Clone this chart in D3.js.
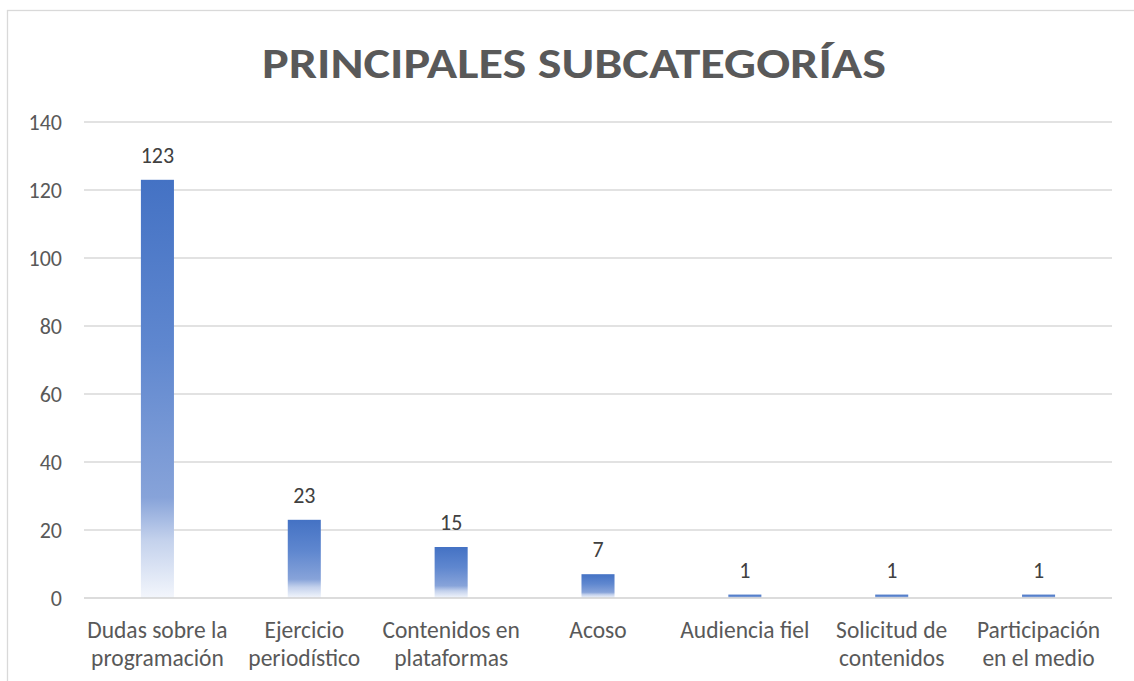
<!DOCTYPE html>
<script src="https://d3js.org/d3.v7.min.js"></script>
<body style="margin: 0; background: #fff;">
<svg id="chart" width="1134" height="681"></svg>
</body>

<style>
  text { font-family: Calibri, Carlito, Lato, "Open Sans", sans-serif; }
  .grid line { stroke: #d9d9d9; stroke-width: 1.3px; }
</style>

<script>

// data
var categories = [
  ["Dudas sobre la", "programación"],
  ["Ejercicio", "periodístico"],
  ["Contenidos en", "plataformas"],
  ["Acoso"],
  ["Audiencia fiel"],
  ["Solicitud de", "contenidos"],
  ["Participación", "en el medio"]
];
var values = [123, 23, 15, 7, 1, 1, 1];
var yTicks = [0, 20, 40, 60, 80, 100, 120, 140];
var title = "PRINCIPALES SUBCATEGORÍAS";

var svg = d3.select("#chart");

// chart frame
svg.append("rect")
   .attr("x", 7.5).attr("y", 10.5)
   .attr("width", 1140).attr("height", 700)
   .attr("fill", "#fff")
   .attr("stroke", "#d9d9d9")
   .attr("stroke-width", 1.3);

var defs = svg.append("defs");
var grad = defs.append("linearGradient")
   .attr("id", "barFill")
   .attr("x1", 0).attr("y1", 0).attr("x2", 0).attr("y2", 1);
grad.append("stop").attr("offset", "0%").attr("stop-color", "#4472c4");
grad.append("stop").attr("offset", "40%").attr("stop-color", "#5f87cf");
grad.append("stop").attr("offset", "76%").attr("stop-color", "#87a3d9");
grad.append("stop").attr("offset", "86%").attr("stop-color", "#c3d1ec");
grad.append("stop").attr("offset", "100%").attr("stop-color", "#f3f6fc");

var plotLeft = 84, plotRight = 1112, plotTop = 122, plotBottom = 598;
var fontSize = "22px";
var catFontSize = "23.5px";

var x = d3.scaleBand()
   .domain(d3.range(categories.length))
   .range([plotLeft, plotRight])
   .paddingInner(0.775)
   .paddingOuter(0.3875);

var y = d3.scaleLinear()
   .domain([0, 140])
   .range([plotBottom, plotTop]);

// gridlines
svg.append("g")
   .attr("class", "grid")
 .selectAll("line")
 .data(yTicks.filter(function(d) { return d > 0; }))
 .join("line")
   .attr("x1", plotLeft)
   .attr("x2", plotRight)
   .attr("y1", function(d) { return y(d); })
   .attr("y2", function(d) { return y(d); });

// y axis labels
var yAxis = svg.append("g")
   .attr("transform", "translate(" + plotLeft + ",0)")
   .call(d3.axisLeft(y).tickValues(yTicks).tickSize(0).tickPadding(22));
yAxis.select(".domain").remove();
yAxis.selectAll("text")
   .style("font-family", "Calibri, Carlito, Lato, 'Open Sans', sans-serif")
   .style("font-size", fontSize)
   .attr("fill", "#595959");

// bars
svg.append("g")
 .selectAll("rect")
 .data(values)
 .join("rect")
   .attr("x", function(d, i) { return x(i); })
   .attr("y", function(d) { return y(d); })
   .attr("width", x.bandwidth())
   .attr("height", function(d) { return y(0) - y(d); })
   .attr("fill", "url(#barFill)");

// baseline
svg.append("line")
   .attr("x1", plotLeft).attr("x2", plotRight)
   .attr("y1", y(0)).attr("y2", y(0))
   .attr("stroke", "#d0d0d0")
   .attr("stroke-width", 1.5);

// value labels
svg.append("g")
 .selectAll("text")
 .data(values)
 .join("text")
   .attr("x", function(d, i) { return x(i) + x.bandwidth() / 2; })
   .attr("y", function(d) { return y(d) - 17; })
   .attr("text-anchor", "middle")
   .attr("font-size", fontSize)
   .attr("fill", "#404040")
   .text(function(d) { return d; });

// category labels
var cat = svg.append("g")
 .selectAll("text")
 .data(categories)
 .join("text")
   .attr("x", function(d, i) { return x(i) + x.bandwidth() / 2; })
   .attr("y", 638)
   .attr("text-anchor", "middle")
   .attr("font-size", catFontSize)
   .attr("fill", "#595959");

cat.selectAll("tspan")
 .data(function(d) { return d; })
 .join("tspan")
   .attr("x", function() { return d3.select(this.parentNode).attr("x"); })
   .attr("dy", function(d, i) { return i === 0 ? 0 : 28; })
   .text(function(d) { return d; });

// title
svg.append("text")
   .attr("x", 574)
   .attr("y", 78)
   .attr("text-anchor", "middle")
   .attr("font-size", "43px")
   .attr("font-weight", "bold")
   .attr("fill", "#595959")
   .attr("textLength", 624)
   .attr("lengthAdjust", "spacingAndGlyphs")
   .text(title);

</script>
